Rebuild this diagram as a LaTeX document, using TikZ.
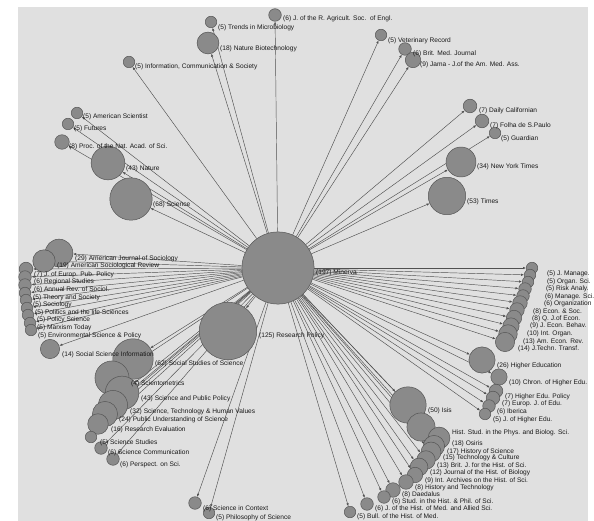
\documentclass[tikz,border=0pt]{standalone}
\usepackage{fontspec}
\setmainfont{Liberation Sans}
\usetikzlibrary{arrows.meta,backgrounds}
\definecolor{bgc}{RGB}{224,224,224}
\definecolor{nfill}{RGB}{138,138,138}
\definecolor{ndraw}{RGB}{85,85,85}
\definecolor{ecol}{RGB}{80,80,80}
\definecolor{tcol}{RGB}{25,25,25}
\newcommand\labfont{\fontsize{6.6}{7}\selectfont}
\begin{document}
\begin{tikzpicture}[x=1pt,y=-1pt,
  jn/.style={circle,draw=ndraw,fill=nfill,line width=0.5pt,inner sep=0pt,minimum size={5.14*sqrt(#1)}},
  lab/.style={anchor=west,inner sep=0pt,font=\labfont,text=tcol},
  edge/.style={draw=ecol,line width=0.45pt,-{Latex[length=3pt,width=2.4pt]}}]
\useasboundingbox (0,0) rectangle (594,521);
% ---------- circles ----------
\node[jn=197] (minerva) at (278,268) {};
\node[jn=125] (rp) at (228,331) {};
\node[jn=6] (agri) at (275,15) {};
\node[jn=5] (trends) at (211,22) {};
\node[jn=18] (natbio) at (208,43) {};
\node[jn=5] (ics) at (129,62) {};
\node[jn=5] (amsci) at (77,113) {};
\node[jn=5] (futures) at (68,124) {};
\node[jn=8] (pnas) at (62,142) {};
\node[jn=43] (nature) at (108,163) {};
\node[jn=68] (science) at (131,199) {};
\node[jn=5] (vet) at (381,35) {};
\node[jn=6] (bmj) at (405,49) {};
\node[jn=9] (jama) at (413,60) {};
\node[jn=7] (dcal) at (470,106) {};
\node[jn=7] (folha) at (482,121) {};
\node[jn=5] (guard) at (495,133) {};
\node[jn=34] (nyt) at (461,162) {};
\node[jn=53] (times) at (447,196) {};
% sociology stack
\node[jn=29] (ajs) at (59,253) {};
\node[jn=19] (asr) at (44,261) {};
\node[jn=7] (jepp) at (26,269) {};
\node[jn=6] (regst) at (25,277) {};
\node[jn=6] (arsoc) at (25,285) {};
\node[jn=5] (theo) at (25,293) {};
\node[jn=5] (socio) at (26,300) {};
\node[jn=5] (polls) at (27,308) {};
\node[jn=5] (polsci) at (28,315) {};
\node[jn=5] (marx) at (30,323) {};
\node[jn=5] (envsp) at (31,330) {};
\node[jn=14] (ssi) at (50,349) {};
% science studies cluster
\node[jn=62] (sss) at (133,359) {};
\node[jn=44] (scientom) at (112,378) {};
\node[jn=43] (spp) at (122,393) {};
\node[jn=32] (sthv) at (113,405) {};
\node[jn=24] (pus) at (105,414) {};
\node[jn=16] (reval) at (98,424) {};
\node[jn=5] (sstud) at (91,437) {};
\node[jn=6] (scomm) at (101,448) {};
\node[jn=6] (persp) at (113,459) {};
\node[jn=6] (sic) at (195,503) {};
\node[jn=5] (phil) at (209,513) {};
% economics stack
\node[jn=5] (jman) at (532,268) {};
\node[jn=5] (orgsci) at (530,275) {};
\node[jn=5] (risk) at (528,282) {};
\node[jn=6] (mansci) at (525,289) {};
\node[jn=6] (organiz) at (523,296) {};
\node[jn=8] (econsoc) at (520,303) {};
\node[jn=8] (qje) at (517,310) {};
\node[jn=9] (jeb) at (514,318) {};
\node[jn=10] (intorg) at (511,326) {};
\node[jn=13] (aer) at (508,334) {};
\node[jn=14] (jtt) at (505,342) {};
% higher education
\node[jn=26] (hed) at (482,360) {};
\node[jn=10] (chron) at (499,377) {};
\node[jn=7] (hep) at (496,391) {};
\node[jn=7] (ejed) at (493,398) {};
\node[jn=6] (iber) at (489,406) {};
\node[jn=5] (jhe) at (485,414) {};
% history stack
\node[jn=50] (isis) at (408,405) {};
\node[jn=30] (hsps) at (421,427) {};
\node[jn=18] (osiris) at (439,438) {};
\node[jn=17] (hsci) at (434,446) {};
\node[jn=15] (tc) at (431,452) {};
\node[jn=13] (bjhs) at (426,460) {};
\node[jn=12] (jhb) at (419,467) {};
\node[jn=9] (iahs) at (415,475) {};
\node[jn=8] (htech) at (406,482) {};
\node[jn=8] (daed) at (393,490) {};
\node[jn=6] (shps) at (384,497) {};
\node[jn=6] (jhm) at (367,504) {};
\node[jn=5] (bhm) at (350,512) {};
% ---------- background and connectors ----------
\begin{scope}[on background layer]
\fill[white] (0,0) rectangle (594,521);
\fill[bgc] (18,7) rectangle (588,521);
\foreach \t in {rp,agri,trends,natbio,ics,amsci,futures,pnas,nature,science,vet,bmj,jama,dcal,folha,guard,nyt,times,
  ajs,asr,jepp,regst,arsoc,theo,socio,polls,polsci,marx,envsp,ssi,
  sss,scientom,spp,sthv,pus,reval,sstud,scomm,persp,sic,phil,
  jman,orgsci,risk,mansci,organiz,econsoc,qje,jeb,intorg,aer,jtt,
  hed,chron,hep,ejed,iber,jhe,
  isis,hsps,osiris,hsci,tc,bjhs,jhb,iahs,htech,daed,shps,jhm,bhm}
  \draw[edge] (minerva) -- (\t);
\end{scope}
% ---------- labels ----------
\node[lab] (l-minerva) at (316,273) {(197) Minerva};
\node[lab] (l-rp) at (259,336) {(125) Research Policy};
\node[lab] (l-agri) at (283,19) {(6) J. of the R. Agricult. Soc.\ \ of Engl.};
\node[lab] (l-trends) at (218,28) {(5) Trends in Microbiology};
\node[lab] (l-natbio) at (220,49) {(18) Nature Biotechnology};
\node[lab] (l-ics) at (135,67) {(5) Information, Communication \& Society};
\node[lab] (l-amsci) at (83,117) {(5) American Scientist};
\node[lab] (l-futures) at (74,129) {(5) Futures};
\node[lab] (l-pnas) at (69,147) {(8) Proc. of the Nat. Acad. of Sci.};
\node[lab] (l-nature) at (126,169) {(43) Nature};
\node[lab] (l-science) at (153,205) {(68) Science};
\node[lab] (l-vet) at (388,41) {(5) Veterinary Record};
\node[lab] (l-bmj) at (413,54) {(6) Brit. Med. Journal};
\node[lab] (l-jama) at (420,65) {(9) Jama - J.of the Am. Med. Ass.};
\node[lab] (l-dcal) at (479,111) {(7) Daily Californian};
\node[lab] (l-folha) at (490,126) {(7) Folha de S.Paulo};
\node[lab] (l-guard) at (501,139) {(5) Guardian};
\node[lab] (l-nyt) at (477,167) {(34) New York Times};
\node[lab] (l-times) at (467,202) {(53) Times};
\node[lab] (l-ajs) at (75,259) {(29) American Journal of Sociology};
\node[lab] (l-asr) at (57,266) {(19) American Sociological Review};
\node[lab] (l-jepp) at (34,275) {(7) J. of Europ. Pub. Policy};
\node[lab] (l-regst) at (34,282) {(6) Regional Studies};
\node[lab] (l-arsoc) at (34,290) {(6) Annual Rev. of Sociol.};
\node[lab] (l-theo) at (33,298) {(5) Theory and Society};
\node[lab] (l-socio) at (33,305) {(5) Sociology};
\node[lab] (l-polls) at (35,313) {(5) Politics and the life Sciences};
\node[lab] (l-polsci) at (37,320) {(5) Policy Science};
\node[lab] (l-marx) at (37,328) {(5) Marxism Today};
\node[lab] (l-envsp) at (38,336) {(5) Environmental Science \& Policy};
\node[lab] (l-ssi) at (62,355) {(14) Social Science Information};
\node[lab] (l-sss) at (155,364) {(62) Social Studies of Science};
\node[lab] (l-scientom) at (131,384) {(4) Scientometrics};
\node[lab] (l-spp) at (141,399) {(43) Science and Public Policy};
\node[lab] (l-sthv) at (130,412) {(32) Science, Technology \& Human Values};
\node[lab] (l-pus) at (119,420) {(24) Public Understanding of Science};
\node[lab] (l-reval) at (111,430) {(16) Research Evaluation};
\node[lab] (l-sstud) at (100,443) {(5) Science Studies};
\node[lab] (l-scomm) at (108,453) {(6) Science Communication};
\node[lab] (l-persp) at (120,465) {(6) Perspect. on Sci.};
\node[lab] (l-sic) at (203,509) {(6) Science in Context};
\node[lab] (l-phil) at (216,518) {(5) Philosophy of Science};
\node[lab] (l-jman) at (547,274) {(5) J. Manage.};
\node[lab] (l-orgsci) at (547,282) {(5) Organ. Sci.};
\node[lab] (l-risk) at (546,289) {(5) Risk Analy.};
\node[lab] (l-mansci) at (545,297) {(6) Manage. Sci.};
\node[lab] (l-organiz) at (544,304) {(6) Organization};
\node[lab] (l-econsoc) at (533,312) {(8) Econ. \& Soc.};
\node[lab] (l-qje) at (532,319) {(8) Q. J.of Econ.};
\node[lab] (l-jeb) at (530,326) {(9) J. Econ. Behav.};
\node[lab] (l-intorg) at (527,334) {(10) Int. Organ.};
\node[lab] (l-aer) at (523,342) {(13) Am. Econ. Rev.};
\node[lab] (l-jtt) at (518,349) {(14) J.Techn. Transf.};
\node[lab] (l-hed) at (497,366) {(26) Higher Education};
\node[lab] (l-chron) at (509,383) {(10) Chron. of Higher Edu.};
\node[lab] (l-hep) at (505,397) {(7) Higher Edu. Policy};
\node[lab] (l-ejed) at (502,404) {(7) Europ. J. of Edu.};
\node[lab] (l-iber) at (497,412) {(6) Iberica};
\node[lab] (l-jhe) at (493,420) {(5) J. of Higher Edu.};
\node[lab] (l-isis) at (428,411) {(50) Isis};
\node[lab] (l-hsps) at (452,433) {Hist. Stud. in the Phys. and Biolog. Sci.};
\node[lab] (l-osiris) at (452,444) {(18) Osiris};
\node[lab] (l-hsci) at (447,452) {(17) History of Science};
\node[lab] (l-tc) at (443,458) {(15) Technology \& Culture};
\node[lab] (l-bjhs) at (437,466) {(13) Brit. J. for the Hist. of Sci.};
\node[lab] (l-jhb) at (430,473) {(12) Journal of the Hist. of Biology};
\node[lab] (l-iahs) at (425,481) {(9) Int. Archives on the Hist. of Sci.};
\node[lab] (l-htech) at (415,488) {(8) History and Technology};
\node[lab] (l-daed) at (402,495) {(8) Daedalus};
\node[lab] (l-shps) at (392,502) {(6) Stud. in the Hist. \& Phil. of Sci.};
\node[lab] (l-jhm) at (375,509) {(6) J. of the Hist. of Med. and Allied Sci.};
\node[lab] (l-bhm) at (357,517) {(5) Bull. of the Hist. of Med.};
\end{tikzpicture}
\end{document}
